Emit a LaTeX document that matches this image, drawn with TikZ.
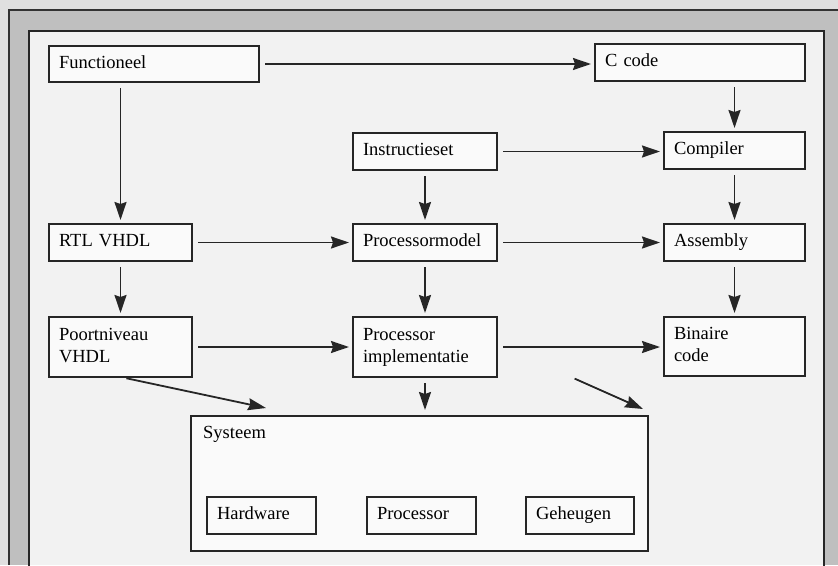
\documentclass[tikz,border=0pt]{standalone}
\usepackage{fontspec}
\setmainfont{Liberation Serif}
\usetikzlibrary{arrows.meta}

\begin{document}
\begin{tikzpicture}[x=1pt,y=-1pt,
  blok/.style={draw=black!85, line width=1.6pt, fill=black!2, anchor=north west,
    align=left, inner xsep=10pt, inner ysep=0pt, outer sep=0pt,
    font=\fontsize{18.5}{22}\selectfont,
    execute at begin node=\strut, execute at end node=\strut},
  pijl/.style={draw=black!85, line width=1.8pt,
    -{Stealth[length=18pt,width=12pt,inset=2pt]}, shorten <=6pt, shorten >=4pt}]
\useasboundingbox (0,0) rectangle (838,565);
\fill[black!12] (0,0) rectangle (838,565);
\fill[black!25] (9,10) rectangle (838,565);
\draw[black!80, line width=1.5pt] (9,565) -- (9,10) -- (838,10);
\fill[black!5] (29,31) rectangle (824,565);
\draw[black!85, line width=1.5pt] (29,566) -- (29,31) -- (824,31) -- (824,566);
\node[blok, text width=190pt, minimum height=36pt] (func) at (49,46) {Functioneel};
\node[blok, text width=190pt, minimum height=37pt] (ccode) at (595,44) {C code};
\node[blok, text width=124pt, minimum height=37pt] (instr) at (353,133) {Instructieset};
\node[blok, text width=121pt, minimum height=37pt] (comp) at (664,132) {Compiler};
\node[blok, text width=123pt, minimum height=37pt] (rtl) at (49,224) {RTL VHDL};
\node[blok, text width=124pt, minimum height=37pt] (pmodel) at (353,224) {Processormodel};
\node[blok, text width=121pt, minimum height=37pt] (asm) at (664,224) {Assembly};
\node[blok, text width=123pt, minimum height=60pt] (poort) at (49,317) {Poortniveau\\VHDL};
\node[blok, text width=124pt, minimum height=60pt] (impl) at (353,317) {Processor\\implementatie};
\node[blok, text width=121pt, minimum height=59pt] (bin) at (664,317) {Binaire\\code};
\node[blok, text width=437pt, minimum height=135pt] (sys) at (191,416) {};
\node[font=\fontsize{18.5}{22}\selectfont, anchor=base west, inner sep=0pt] (systxt) at (203,438) {Systeem};
\node[blok, text width=89pt, minimum height=37pt] (hw) at (207,497) {Hardware};
\node[blok, text width=89pt, minimum height=37pt] (proc) at (367,497) {Processor};
\node[blok, text width=88pt, minimum height=37pt] (mem) at (526,497) {Geheugen};
\coordinate (sysL) at (266,408);
\coordinate (sysR) at (643,409);
\draw[pijl] (func.east) -- (func.east -| ccode.west);
\draw[pijl] (func.south -| rtl.north) -- (rtl.north);
\draw[pijl] (ccode.south -| comp.north) -- (comp.north);
\draw[pijl] (instr.east) -- (instr.east -| comp.west);
\draw[pijl] (instr.south) -- (instr.south |- pmodel.north);
\draw[pijl] (comp.south) -- (comp.south |- asm.north);
\draw[pijl] (rtl.east) -- (rtl.east -| pmodel.west);
\draw[pijl] (pmodel.east) -- (pmodel.east -| asm.west);
\draw[pijl] (rtl.south) -- (poort.north);
\draw[pijl] (pmodel.south) -- (impl.north);
\draw[pijl] (asm.south) -- (bin.north);
\draw[pijl] (poort.east) -- (poort.east -| impl.west);
\draw[pijl] (impl.east) -- (impl.east -| bin.west);
\draw[pijl, shorten >=0pt] (poort.south) -- (sysL);
\draw[pijl, shorten >=6pt] (impl.south) -- (impl.south |- sys.north);
\draw[pijl, shorten <=4pt, shorten >=0pt] (571,377) -- (sysR);
\end{tikzpicture}
\end{document}
